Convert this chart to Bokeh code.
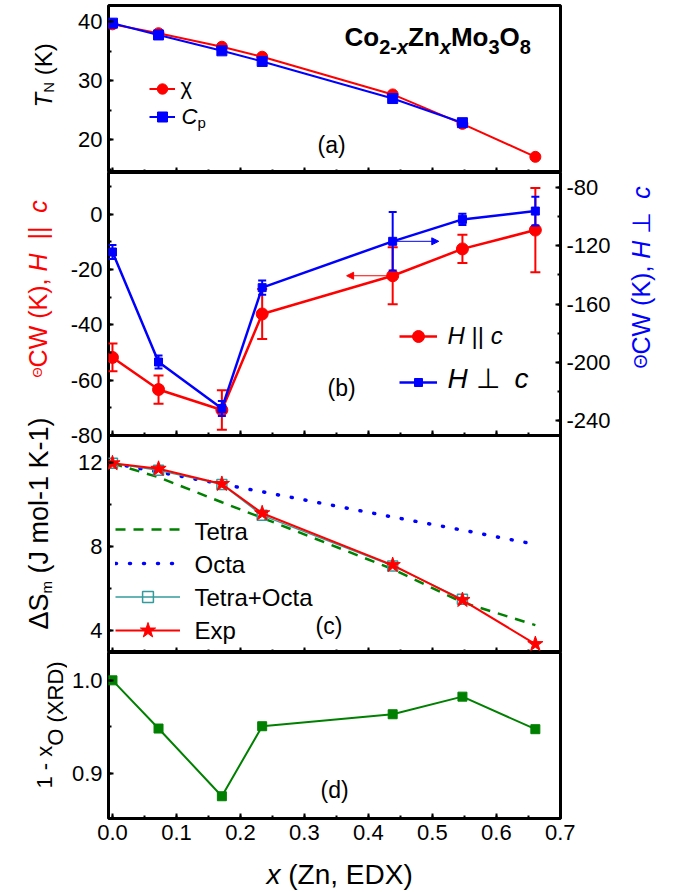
import math
from bokeh.plotting import figure
from bokeh.layouts import column, row
from bokeh.models import (Range1d, LinearAxis, SingleIntervalTicker, PrintfTickFormatter,
                          CustomJSTickFormatter, Label, Legend, LegendItem, Arrow, NormalHead)
from bokeh.embed import file_html
from bokeh.resources import INLINE

# ---------------- data ----------------
x_edx = [0.0, 0.072, 0.171, 0.234, 0.438, 0.547, 0.661]
tn_chi = [39.6, 38.1, 35.8, 34.1, 27.7, 22.7, 17.1]
tn_cp = [39.8, 37.8, 35.1, 33.3, 27.0, 22.9]
theta_par = [-51.8, -63.4, -70.8, -36.1, -22.3, -12.6, -5.8]
theta_par_err = [5.0, 5.1, 7.1, 9.0, 10.3, 5.1, 15.2]
theta_perp = [-124.4, -199.7, -231.5, -148.8, -117.1, -102.1, -96.4]
theta_perp_err = [4.8, 4.5, 5.1, 4.8, 20.0, 3.9, 9.8]
s_tetra = [11.95, 11.29, 10.1, 9.36, 6.93, 5.35, 4.27]
s_octa = [11.95, 11.54, 10.96, 10.6, 9.4, 8.78, 8.1]
s_tetra_octa = [11.95, 11.62, 10.95, 9.48, 7.08, 5.5]
s_exp = [11.95, 11.69, 10.97, 9.58, 7.12, 5.46, 3.37]
one_minus_xo = [1.0, 0.948, 0.875, 0.9505, 0.9634, 0.9824, 0.9473]

# ---------------- style / layout (page px) ----------------
FONT = "Liberation Sans"
RED, BLUE, GREEN, TEAL = "#FF0000", "#0000FF", "#008000", "#339B9B"
TOTAL_H = 890
LEFT_W = 67            # strip holding the left axis titles
MAIN_W = 561           # column of the four panels
RIGHT_W = 45           # strip holding the right axis title
FRAME_L = 106
FRAME_W = 454
BORDER_L = FRAME_L - LEFT_W
BORDER_R = MAIN_W - BORDER_L - FRAME_W
BOTTOM_STRIP_H = 36
OVERLAP = 14           # panel (b) keeps room below its frame for its lowest tick label
TICK_FS = "22px"
ARROW_DX = 0.072
BASE_K = 0.31          # compensation of the rendered baseline offset

x_range = Range1d(-0.0062, 0.7003)

WR = {' ': 278, '(': 333, ')': 333, ',': 278, '-': 333, '.': 278, '|': 260, '+': 584,
      'A': 667, 'C': 722, 'D': 722, 'E': 667, 'H': 722, 'J': 500, 'K': 667, 'M': 833,
      'N': 722, 'O': 778, 'R': 722, 'S': 667, 'T': 611, 'W': 944, 'X': 667, 'Z': 611,
      'a': 556, 'c': 500, 'e': 556, 'l': 222, 'm': 833, 'n': 556, 'o': 556, 'p': 556,
      'r': 333, 't': 278, 'x': 500, 'Θ': 778, 'Δ': 668, 'χ': 500, '⊥': 838}
WB = {'C': 722, 'o': 611, 'Z': 611, 'n': 611, 'M': 833, 'O': 778, 'x': 556, '-': 333}


def tw(s, size, bold=False):
    tbl = WB if bold else WR
    return sum((tbl.get(c) or WR.get(c, 556)) for c in s) / 1000.0 * size


def rich(target, x, y, segs, rotate=False, color="black"):
    """Mixed-style text; x, y = page coords of the start baseline."""
    p, left, bottom = target
    pos = 0.0
    for seg in segs:
        t, size, style, dy = seg[:4]
        c = seg[4] if len(seg) > 4 else color
        bold = "bold" in style
        lead = len(t) - len(t.lstrip(" "))
        pos += tw(" " * lead, size, bold)
        t2 = t.strip(" ")
        if t2:
            d = dy - BASE_K * size
            if rotate:
                px, py = x + d, y - pos
            else:
                px, py = x + pos, y + d
            p.add_layout(Label(x=px - left, y=bottom - py, x_units="screen", y_units="screen",
                               text=t2, text_font=FONT, text_font_size=f"{size}px",
                               text_font_style=style, text_color=c,
                               angle=math.pi / 2 if rotate else 0.0,
                               text_align="left", text_baseline="alphabetic"))
        pos += tw(t.lstrip(" "), size, bold)


def style_axis(ax, interval, fmt=None, labels=True):
    ax.ticker = SingleIntervalTicker(interval=interval, num_minor_ticks=2)
    if labels:
        ax.formatter = PrintfTickFormatter(format=fmt)
        ax.major_label_text_font_size = TICK_FS
        ax.major_label_standoff = 6
    else:
        ax.formatter = CustomJSTickFormatter(code="return ''")
        ax.major_label_text_font_size = "0px"
        ax.major_label_standoff = 0
    ax.major_label_text_font = FONT
    ax.major_label_text_color = "black"
    ax.axis_line_color = None
    ax.major_tick_in, ax.major_tick_out = 5, 0
    ax.minor_tick_in, ax.minor_tick_out = 3, 0
    ax.major_tick_line_width = 2
    ax.minor_tick_line_width = 2
    ax.major_tick_line_color = "black"
    ax.minor_tick_line_color = "black"


def make_fig(height, yr, top=0, bottom=0, y_interval=10, y_fmt="%d", x_labels=False, **kw):
    p = figure(width=MAIN_W, height=height, x_range=x_range, y_range=Range1d(*yr),
               output_backend="svg", toolbar_location=None,
               min_border_left=BORDER_L, min_border_right=BORDER_R,
               min_border_top=top, min_border_bottom=bottom, **kw)
    p.xgrid.visible = False
    p.ygrid.visible = False
    p.outline_line_color = "black"
    p.outline_line_width = 3
    p.background_fill_color = "white"
    p.border_fill_color = "white"
    p.border_fill_alpha = 0.0
    style_axis(p.xaxis[0], 0.1, "%.1f", labels=x_labels)
    style_axis(p.yaxis[0], y_interval, y_fmt)
    return p


def strip(width, height):
    s = figure(width=width, height=height, x_range=Range1d(0, 1), y_range=Range1d(0, 1),
               output_backend="svg", toolbar_location=None, min_border=0,
               x_axis_type=None, y_axis_type=None)
    s.outline_line_color = None
    s.background_fill_color = "white"
    s.border_fill_color = "white"
    return s


def legend_item(p, frame_bottom, renderers, x_left, y_center, gw, gh):
    lg = Legend(items=[LegendItem(label=" ", renderers=renderers)],
                location=(x_left - FRAME_L, frame_bottom - (y_center + gh / 2.0)),
                glyph_width=gw, glyph_height=gh, label_height=gh, label_width=1,
                label_standoff=0, spacing=0, padding=0, margin=0,
                border_line_color=None, background_fill_alpha=0,
                label_text_font_size="1px", orientation="vertical")
    p.add_layout(lg)


left_strip = strip(LEFT_W, TOTAL_H)
right_strip = strip(RIGHT_W, TOTAL_H)
bottom_strip = strip(MAIN_W, BOTTOM_STRIP_H)
LS = (left_strip, 0, TOTAL_H)
RS = (right_strip, LEFT_W + MAIN_W, TOTAL_H)
BS = (bottom_strip, LEFT_W, TOTAL_H)

# ---------------- panel (a) ----------------
A_BOT = 172
pa = make_fig(172, (14.44, 42.8), top=5, y_interval=10, y_fmt="%d")
A = (pa, FRAME_L, A_BOT)
chi_l = pa.line(x_edx, tn_chi, line_color=RED, line_width=2)
chi_m = pa.scatter(x_edx, tn_chi, marker="circle", size=11, fill_color=RED, line_color=RED)
cp_l = pa.line(x_edx[:len(tn_cp)], tn_cp, line_color=BLUE, line_width=2)
cp_m = pa.scatter(x_edx[:len(tn_cp)], tn_cp, marker="square", size=10, fill_color=BLUE, line_color=BLUE)
legend_item(pa, A_BOT, [chi_l, chi_m], 147, 88, 26, 27)
legend_item(pa, A_BOT, [cp_l, cp_m], 147, 116, 26, 25)
rich(A, 178, 93, [("χ", 22, "normal", 0)])
rich(A, 179, 123, [("C", 22, "italic", 0), ("p", 15, "normal", 4)])
rich(A, 315, 152, [("(a)", 23, "normal", 0)])
rich(A, 342, 45, [("Co", 26, "bold", 0), ("2-", 20, "bold", 8), ("x", 20, "bold italic", 8),
                  ("Zn", 26, "bold", 0), ("x", 20, "bold italic", 8), ("Mo", 26, "bold", 0),
                  ("3", 20, "bold", 8), ("O", 26, "bold", 0), ("8", 20, "bold", 8)])
rich(LS, 50, 107, [("T", 24, "italic", 0), ("N", 15, "normal", 3), (" (K)", 24, "normal", 0)],
     rotate=True)

# ---------------- panel (b) ----------------
B_BOT = 435
pb = make_fig(263 + OVERLAP, (-80, 15), bottom=OVERLAP, y_interval=20, y_fmt="%d")
B = (pb, FRAME_L, B_BOT)
pb.extra_y_ranges = {"right": Range1d(-250, -70)}
rax = LinearAxis(y_range_name="right")
style_axis(rax, 40, "%d")
pb.add_layout(rax, "right")

par_lo = [v - e for v, e in zip(theta_par, theta_par_err)]
par_hi = [v + e for v, e in zip(theta_par, theta_par_err)]
perp_lo = [v - e for v, e in zip(theta_perp, theta_perp_err)]
perp_hi = [v + e for v, e in zip(theta_perp, theta_perp_err)]

par_l = pb.line(x_edx, theta_par, line_color=RED, line_width=2.5)
pb.segment(x_edx, par_lo, x_edx, par_hi, line_color=RED, line_width=2)
pb.scatter(x_edx, par_lo, marker="dash", size=10, line_color=RED, line_width=2)
pb.scatter(x_edx, par_hi, marker="dash", size=10, line_color=RED, line_width=2)
par_m = pb.scatter(x_edx, theta_par, marker="circle", size=12, fill_color=RED, line_color=RED)

perp_l = pb.line(x_edx, theta_perp, line_color=BLUE, line_width=2.5, y_range_name="right")
pb.segment(x_edx, perp_lo, x_edx, perp_hi, line_color=BLUE, line_width=2, y_range_name="right")
pb.scatter(x_edx, perp_lo, marker="dash", size=8, line_color=BLUE, line_width=2, y_range_name="right")
pb.scatter(x_edx, perp_hi, marker="dash", size=8, line_color=BLUE, line_width=2, y_range_name="right")
perp_m = pb.scatter(x_edx, theta_perp, marker="square", size=8, fill_color=BLUE, line_color=BLUE,
                    y_range_name="right")

pb.add_layout(Arrow(end=NormalHead(size=7, fill_color=BLUE, line_color=BLUE, line_width=1),
                    x_start=x_edx[4], y_start=theta_perp[4], x_end=x_edx[4] + ARROW_DX,
                    y_end=theta_perp[4], line_color=BLUE, line_width=1, y_range_name="right"))
pb.add_layout(Arrow(end=NormalHead(size=7, fill_color=RED, line_color=RED, line_width=1),
                    x_start=x_edx[4], y_start=theta_par[4], x_end=x_edx[4] - ARROW_DX,
                    y_end=theta_par[4], line_color=RED, line_width=1))

legend_item(pb, B_BOT, [par_l, par_m], 397, 336, 38, 30)
legend_item(pb, B_BOT, [perp_l, perp_m], 397, 382, 38, 20)
rich(B, 445, 342, [("H", 24, "italic", 0), (" ||", 24, "normal", 0), (" c", 24, "italic", 0)])
rich(B, 445, 387, [("H", 28, "italic", 0), (" ⊥", 28, "normal", 0), ("  c", 28, "italic", 0)])
rich(B, 325, 395, [("(b)", 23, "normal", 0)])
rich(LS, 45, 377, [("Θ", 13, "normal", -4), ("CW (K),", 25, "normal", 0), (" H", 25, "italic", 0),
                   ("  ||", 25, "normal", 0), ("  c", 25, "italic", 0)], rotate=True, color=RED)
rich(RS, 648, 368, [("Θ", 18, "normal", -2), ("CW (K),", 25, "normal", 0), (" H", 25, "italic", 0),
                    (" ⊥", 25, "normal", 0), ("  c", 25, "italic", 0)], rotate=True, color=BLUE)

# ---------------- panel (c) ----------------
C_BOT = 652
pc = make_fig(217, (2.97, 13.27), y_interval=4, y_fmt="%d",
              styles={"margin-top": f"-{OVERLAP}px"})
C = (pc, FRAME_L, C_BOT)
n_to = len(s_tetra_octa)
tet_l = pc.line(x_edx, s_tetra, line_color=GREEN, line_width=2.5, line_dash="10 8")
oct_l = pc.line(x_edx, s_octa, line_color=BLUE, line_width=3.5, line_dash="1 13", line_cap="round")
to_l = pc.line(x_edx[:n_to], s_tetra_octa, line_color=TEAL, line_width=1.3)
to_m = pc.scatter(x_edx[:n_to], s_tetra_octa, marker="square", size=10, fill_color="white",
                  fill_alpha=0.0, line_color=TEAL, line_width=1.5)
exp_l = pc.line(x_edx, s_exp, line_color=RED, line_width=2)
exp_m = pc.scatter(x_edx, s_exp, marker="star", size=16, fill_color=RED, line_color=RED)
legend_item(pc, C_BOT, [tet_l], 113, 529, 65, 20)
legend_item(pc, C_BOT, [oct_l], 113, 562.5, 65, 20)
legend_item(pc, C_BOT, [to_l, to_m], 113, 596, 65, 27)
legend_item(pc, C_BOT, [exp_l, exp_m], 113, 629.5, 65, 40)
for lbl, yy in zip(["Tetra", "Octa", "Tetra+Octa", "Exp"], [538, 571, 604, 637]):
    rich(C, 192, yy, [(lbl, 24, "normal", 0)])
rich(C, 313, 633, [("(c)", 23, "normal", 0)])
rich(LS, 47, 629, [("ΔS", 27, "normal", 0), ("m", 15, "normal", 4),
                   (" (J mol-1 K-1)", 27, "normal", 0)], rotate=True)

# ---------------- panel (d) ----------------
D_BOT = 818
pd_ = make_fig(202, (0.851, 1.030), bottom=36, y_interval=0.1, y_fmt="%.1f", x_labels=True)
D = (pd_, FRAME_L, D_BOT)
pd_.line(x_edx, one_minus_xo, line_color=GREEN, line_width=2)
pd_.scatter(x_edx, one_minus_xo, marker="square", size=9, fill_color=GREEN, line_color=GREEN)
rich(D, 318, 797, [("(d)", 23, "normal", 0)])
rich(LS, 51, 788, [("1 - x", 22, "normal", 0), ("O (XRD)", 22, "normal", 11)], rotate=True)
rich(BS, 225, 883, [("x", 28, "italic", 0), (" (Zn, EDX)", 28, "normal", 0)])

main = column(pa, pb, pc, pd_, bottom_strip, spacing=0)
layout = row(left_strip, main, right_strip, spacing=0)
open("out.html", "w").write(file_html(layout, INLINE))
